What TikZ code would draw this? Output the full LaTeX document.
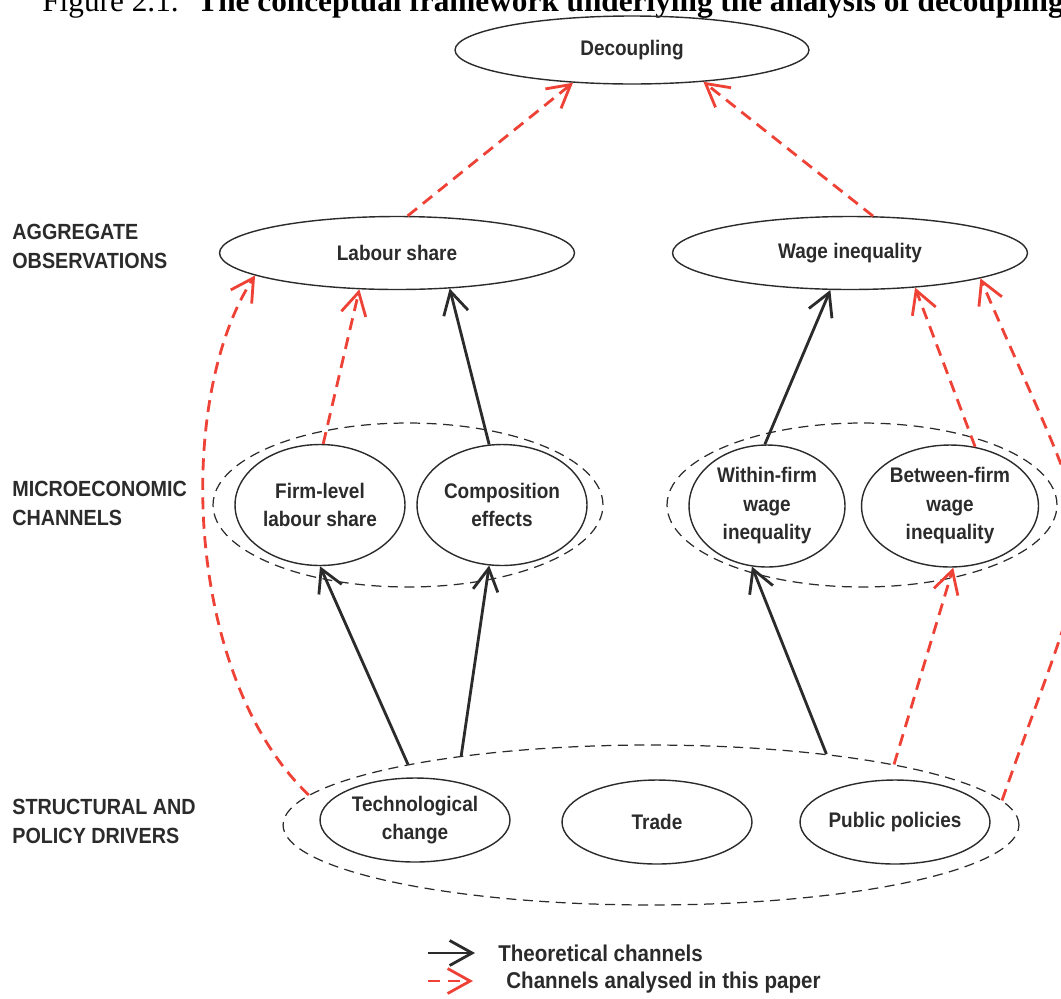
\documentclass[tikz,border=0pt]{standalone}
\usepackage{fontspec}
\setmainfont{Liberation Sans}[FakeStretch=0.9]
\newfontfamily\titlefont{Liberation Serif}
\usetikzlibrary{arrows.meta,shapes.geometric}
\definecolor{inkgray}{HTML}{2B2B2B}
\definecolor{chanred}{HTML}{EE4236}
\newcommand{\bubblefont}{\bfseries\fontsize{12}{16.2}\selectfont}
\newcommand{\rowfont}{\bfseries\fontsize{12.5}{16.4}\selectfont}
\newcommand{\keyfont}{\bfseries\fontsize{13}{16}\selectfont}

\begin{document}
\begin{tikzpicture}[
        x=0.02cm, y=-0.02cm,
        bubble/.style={ellipse, draw=inkgray, line width=0.8pt, inner sep=0pt,
            align=center, text=inkgray, font=\bubblefont},
        group/.style={ellipse, draw=inkgray, line width=0.7pt,
            dash pattern=on 2mm off 1.3mm, inner sep=0pt},
        theory/.style={
            -{Straight Barb[length=4.5mm,width=5mm]},
            line width=1.6pt,
            draw=inkgray,},
        analysed/.style={
            -{Straight Barb[length=4.5mm,width=5mm]},
            line width=1.6pt,
            draw=chanred,
            dash pattern=on 2.4mm off 1.5mm,},
        rowlabel/.style={anchor=west, align=left, inner sep=0pt, text=inkgray, font=\rowfont},
        keytext/.style={anchor=west, inner sep=0pt, text=inkgray, font=\keyfont}
        ]

        \useasboundingbox (0,0) rectangle (1061,998);
        \clip (0,0) rectangle (1061,998);

        \node[anchor=base west, inner sep=0pt, font=\titlefont\fontsize{17.8}{20}\selectfont] (title) at (42,11)
            {Figure 2.1.\hspace{0.6em}\textbf{The conceptual framework underlying the analysis of decoupling}};

        \node[rowlabel] (rowagg) at (12,246.5) {AGGREGATE\\OBSERVATIONS};
        \node[rowlabel] (rowmic) at (12,503.5) {MICROECONOMIC\\CHANNELS};
        \node[rowlabel] (rowdrv) at (12,821.5) {STRUCTURAL AND\\POLICY DRIVERS};

        \node[bubble, minimum width=7.08cm, minimum height=1.36cm] (dec) at (632,50) {Decoupling};
        \node[bubble, minimum width=7.1cm, minimum height=1.46cm] (lab) at (397,253) {Labour share};
        \node[bubble, minimum width=7.1cm, minimum height=1.46cm] (wage) at (850,253) {Wage inequality};

        \node[group, minimum width=7.8cm, minimum height=3.28cm] (micl) at (408,505) {};
        \node[group, minimum width=7.8cm, minimum height=3.28cm] (micr) at (862,505) {};
        \node[group, minimum width=14.72cm, minimum height=3.2cm] (drv) at (651,825) {};

        \node[bubble, minimum width=3.4cm, minimum height=2.42cm] (firm) at (320,505) {Firm-level\\labour share};
        \node[bubble, minimum width=3.4cm, minimum height=2.42cm] (comp) at (502,505) {Composition\\effects};
        \node[bubble, minimum width=3.12cm, minimum height=2.44cm] (within) at (767,506) {Within-firm\\wage\\inequality};
        \node[bubble, minimum width=3.54cm, minimum height=2.44cm] (between) at (950,506) {Between-firm\\wage\\inequality};

        \node[bubble, minimum width=3.8cm, minimum height=1.68cm] (tech) at (415,820) {Technological\\change};
        \node[bubble, minimum width=3.8cm, minimum height=1.68cm] (trade) at (657,822) {Trade};
        \node[bubble, minimum width=3.8cm, minimum height=1.68cm] (policy) at (895,822) {Public policies};

        \draw[theory] (drv.166.6) -- (firm.south);
        \draw[theory] (drv.160.3) -- (comp.258);
        \draw[theory] (comp.102) -- (lab.-34);
        \draw[theory] (drv.22) -- (within.256);
        \draw[theory] (within.92) -- (wage.242);

        \draw[analysed] (lab.74.6) -- (dec.209);
        \draw[analysed] (wage.58.7) -- (dec.-24);
        \draw[analysed] (firm.87) -- (lab.224);
        \draw[analysed] (drv.175.6) .. controls +(-124,-118) and +(-81,124) .. (lab.189.8);
        \draw[analysed] (between.67) -- (wage.-28.4);
        \draw[analysed] (drv.14.6) -- (between.273);
        \draw[analysed] (drv.4) .. controls +(105,-300) and +(129,300) .. (wage.-11.2);

        \coordinate (keyAs) at (428,953);
        \coordinate (keyAe) at (475,953);
        \draw[theory] (keyAs) -- (keyAe);
        \node[keytext] (keyA) at (498,953) {Theoretical channels};

        \coordinate (keyBs) at (428,981);
        \coordinate (keyBe) at (473,981);
        \draw[analysed] (keyBs) -- (keyBe);
        \node[keytext] (keyB) at (506,983) {Channels analysed in this paper};

    \end{tikzpicture}
\end{document}
